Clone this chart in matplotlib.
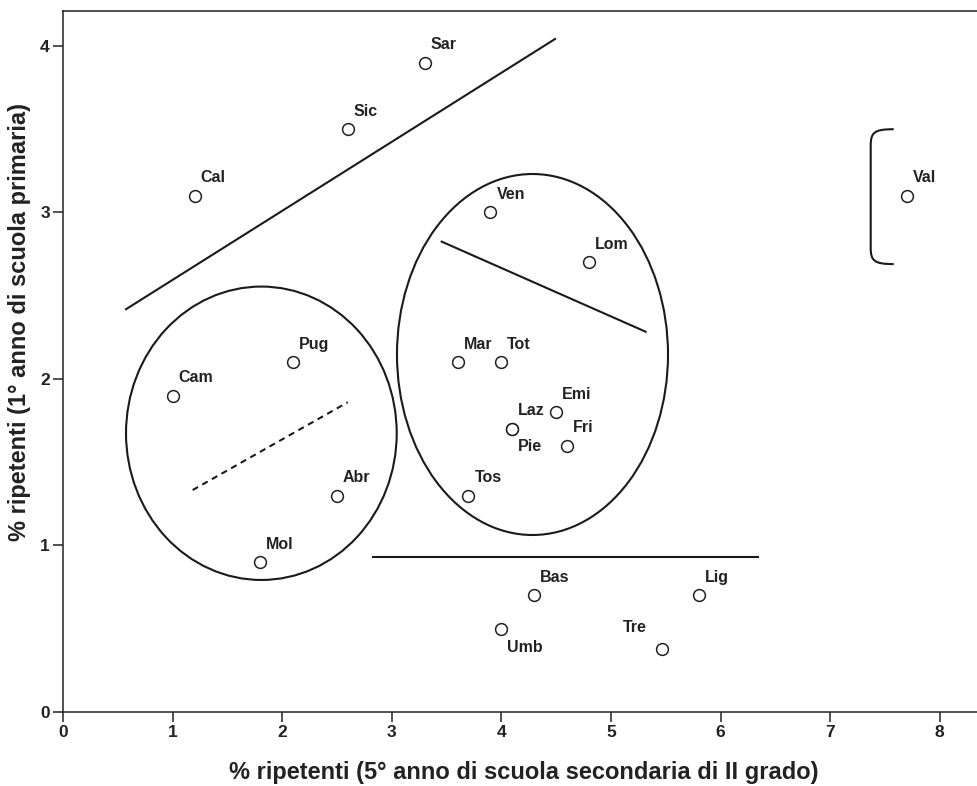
import matplotlib.pyplot as plt
from matplotlib.patches import Ellipse, PathPatch
from matplotlib.path import Path

plt.rcParams['font.family'] = ['Liberation Sans', 'DejaVu Sans']

# Data: % repeaters, 5th year upper secondary (x) vs 1st year primary (y)
regions = ["Sar", "Sic", "Cal", "Ven", "Lom", "Val", "Pug", "Cam", "Mar", "Tot",
           "Emi", "Laz", "Pie", "Fri", "Tos", "Abr", "Mol", "Bas", "Lig", "Umb", "Tre"]
x_secondary = [3.3, 2.6, 1.2, 3.9, 4.8, 7.7, 2.1, 1.0, 3.6, 4.0,
               4.5, 4.1, 4.1, 4.6, 3.7, 2.5, 1.8, 4.3, 5.8, 4.0, 5.47]
y_primary = [3.9, 3.5, 3.1, 3.0, 2.7, 3.1, 2.1, 1.9, 2.1, 2.1,
             1.8, 1.7, 1.7, 1.6, 1.3, 1.3, 0.9, 0.7, 0.7, 0.5, 0.38]

x_ticks = [0, 1, 2, 3, 4, 5, 6, 7, 8]
y_ticks = [0, 1, 2, 3, 4]

# Hand-drawn grouping marks (data units)
upper_line_x = [0.575, 4.49]
upper_line_y = [2.419, 4.042]
left_ellipse = (1.81, 1.674, 2.47, 1.762)      # cx, cy, width, height
left_dash_x = [1.183, 2.598]
left_dash_y = [1.333, 1.860]
mid_ellipse = (4.284, 2.147, 2.473, 2.168)
mid_line_x = [3.455, 5.316]
mid_line_y = [2.825, 2.284]
low_line_x = [2.831, 6.344]
low_line_y = [0.928, 0.928]
bracket_x = [7.37, 7.58]     # vertical stroke, end of arms
bracket_y = [2.69, 3.50]     # bottom, top

# label offsets in pixels (default: up-right)
label_offsets = {"Pie": (6, -18, "left"), "Umb": (6, -19, "left"), "Tre": (-16, 21, "right")}

fig = plt.figure(figsize=(9.77, 7.86), dpi=100)
ax = fig.add_axes([63 / 977, 74 / 786, 914 / 977, 701 / 786])

ax.plot(x_secondary, y_primary, linestyle="none", marker="o", markersize=8.5,
        markerfacecolor="white", markeredgecolor="#222222", markeredgewidth=1.1, zorder=3)

for name, xv, yv in zip(regions, x_secondary, y_primary):
    dx, dy, ha = label_offsets.get(name, (6, 18, "left"))
    ax.annotate(name, (xv, yv), xytext=(dx, dy), textcoords="offset pixels",
                ha=ha, va="center", fontsize=11.5, fontweight="bold", color="#222222")

lw = 1.5
col = "#1a1a1a"
ax.plot(upper_line_x, upper_line_y, color=col, lw=lw)
ax.plot(mid_line_x, mid_line_y, color=col, lw=lw)
ax.plot(low_line_x, low_line_y, color=col, lw=lw)
ax.plot(left_dash_x, left_dash_y, color=col, lw=lw, linestyle=(0, (3, 2.3)))
for cx, cy, w, h in [left_ellipse, mid_ellipse]:
    ax.add_patch(Ellipse((cx, cy), w, h, fill=False, edgecolor=col, lw=lw))

# bracket around Val
bx0, bx1 = bracket_x
by0, by1 = bracket_y
verts = [(bx1, by1), (bx0 + 0.03, by1), (bx0, by1 - 0.02), (bx0, by1 - 0.10),
         (bx0, by0 + 0.10),
         (bx0, by0 + 0.02), (bx0 + 0.03, by0), (bx1, by0)]
codes = [Path.MOVETO, Path.CURVE4, Path.CURVE4, Path.CURVE4,
         Path.LINETO,
         Path.CURVE4, Path.CURVE4, Path.CURVE4]
ax.add_patch(PathPatch(Path(verts, codes), fill=False, edgecolor=col, lw=lw))

ax.set_xlim(0, 8.34)
ax.set_ylim(0, 4.21)
ax.set_xticks(x_ticks)
ax.set_yticks(y_ticks)
ax.tick_params(direction="out", length=7.5, width=1.1, labelsize=12.5, pad=2, colors="#222222")
for lab in ax.get_xticklabels() + ax.get_yticklabels():
    lab.set_fontweight("bold")
ax.spines["right"].set_visible(False)
for s in ["left", "bottom", "top"]:
    ax.spines[s].set_linewidth(1.1)
    ax.spines[s].set_color("#222222")

fig.text(524 / 977, 1 - 772 / 786, "% ripetenti (5° anno di scuola secondaria di II grado)",
         ha="center", va="center", fontsize=17, fontweight="bold", color="#222222")
fig.text(20 / 977, 1 - 322 / 786, "% ripetenti (1° anno di scuola primaria)",
         ha="center", va="center", rotation=90, fontsize=17, fontweight="bold", color="#222222")

fig.savefig("out.png", dpi=100)
